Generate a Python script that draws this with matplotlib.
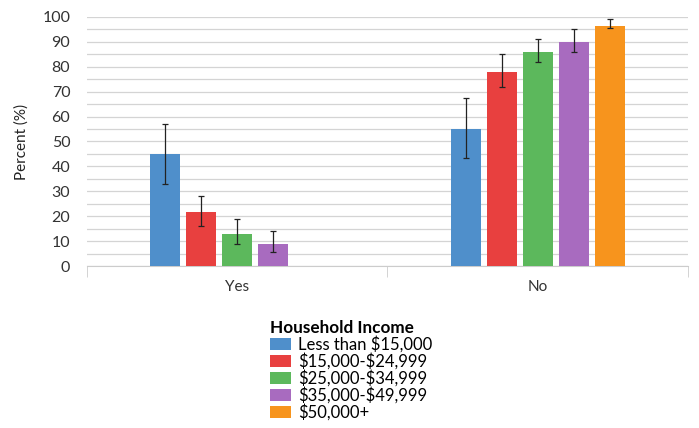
import matplotlib
matplotlib.use("Agg")
import matplotlib.pyplot as plt
import numpy as np

plt.rcParams['font.family'] = ['Lato', 'DejaVu Sans']
plt.rcParams['text.parse_math'] = False

categories = ["Yes", "No"]
groups = ["Less than $15,000", "$15,000-$24,999", "$25,000-$34,999",
          "$35,000-$49,999", "$50,000+"]
colors = ["#4f8fcb", "#e8403f", "#5cb85c", "#a86bbf", "#f7941d"]

# values per income group: [Yes, No]
vals = [[45, 55], [21.5, 78], [13, 86], [9, 90], [None, 96.5]]
err_lo = [[33, 43.5], [16, 72], [9, 82], [5.5, 86], [None, 95.5]]
err_hi = [[57, 67.5], [28, 85], [19, 91], [14, 95], [None, 99]]

fig = plt.figure(figsize=(6.99, 4.28), dpi=100)
ax = fig.add_axes([0.1245, 0.3785, 0.8595, 0.582])

x = np.arange(len(categories))
slot = 0.12
width = 0.1
for i, g in enumerate(groups):
    xs, hs, lo, hi = [], [], [], []
    for j in range(len(categories)):
        if vals[i][j] is None:
            continue
        xs.append(x[j] + (i - 2) * slot)
        hs.append(vals[i][j])
        lo.append(vals[i][j] - err_lo[i][j])
        hi.append(err_hi[i][j] - vals[i][j])
    ax.bar(xs, hs, width, color=colors[i], label=g, zorder=3)
    ax.errorbar(xs, hs, yerr=[lo, hi], fmt='none', ecolor='#222222',
                elinewidth=0.9, capsize=2.5, capthick=0.9, zorder=4)

ax.set_xlim(-0.5, 1.5)
ax.set_ylim(0, 100)
ax.set_yticks(np.arange(0, 101, 10))
ax.set_yticks(np.arange(0, 101, 5), minor=True)
ax.yaxis.grid(True, which='both', color='#d4d4d4', linewidth=0.9, zorder=0)
ax.tick_params(axis='y', which='both', length=0, labelsize=11.5, pad=12,
               colors='#333333')
ax.set_xticks(x)
ax.set_xticklabels(categories, fontsize=11, color='#333333')
ax.set_xticks([-0.5, 0.5, 1.5], minor=True)
ax.tick_params(axis='x', which='major', length=0, pad=10)
ax.tick_params(axis='x', which='minor', length=8, color='#cccccc')
for s in ['top', 'right', 'left']:
    ax.spines[s].set_visible(False)
ax.spines['bottom'].set_color('#cccccc')
ax.set_ylabel("Percent (%)", fontsize=11, color='#222222', labelpad=10)

leg = fig.legend(loc='upper left', bbox_to_anchor=(0.386, 0.252),
                 title="Household Income", frameon=False, fontsize=12,
                 handlelength=1.3, handleheight=0.75, handletextpad=0.4,
                 labelspacing=0.0, borderaxespad=0, borderpad=0)
leg.get_title().set_fontweight('bold')
leg.get_title().set_fontsize(12.3)
leg._legend_box.align = "left"

fig.savefig("out.png", dpi=100)
